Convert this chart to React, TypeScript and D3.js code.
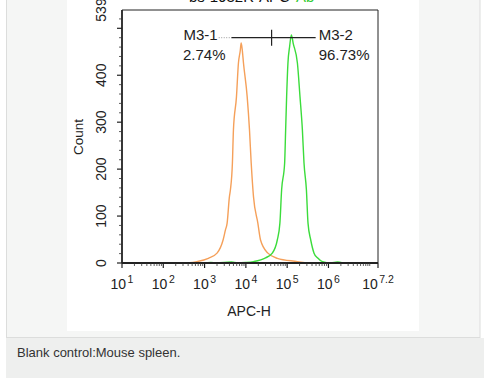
import React from "react";
import * as d3 from "d3";

// ---- data (APC-H fluorescence vs. event count) ----
const orangeApc = [374, 655, 1233, 2004, 2805, 3192, 3516, 3990, 4227, 4721, 5000, 5916, 6607, 7300, 7691, 8150, 8750, 10765, 12246, 13459, 15311, 19498, 22646, 34119, 57677, 177011, 297852];
const orangeCount = [0, 3, 10, 21, 49, 70, 85, 141, 156, 213, 284, 354, 426, 452, 469, 455, 426, 354, 283, 213, 141, 85, 49, 21, 10, 3, 0];

const greenApc = [1000, 1413, 1995, 4467, 6310, 10000, 15311, 29992, 43652, 57677, 66681, 73451, 86896, 91833, 97051, 104472, 115000, 126474, 140000, 177011, 204644, 233884, 255859, 292415, 319890, 372392, 447713, 542001, 716143, 1140250, 1659587, 2238721];
const greenCount = [0, 1, 0, 2, 0, 1, 3, 11, 21, 49, 85, 156, 213, 283, 354, 426, 462, 486, 468, 426, 354, 283, 213, 156, 85, 49, 21, 11, 3, 0, 2, 0];

const xMajorExponents = [1, 2, 3, 4, 5, 6];
const xEndExponent = 7.2;
const yMajorTicks = [0, 100, 200, 300, 400, 500];
const yTickLabels = [0, 100, 200, 300, 400, 539];
const yMax = 539;

const gate1 = { label: "M3-1", pct: "2.74%", from: 2200, solidFrom: 4470, to: 42000 };
const gate2 = { label: "M3-2", pct: "96.73%", from: 42000, to: 490000 };
const gateCount = 480;

const titleBlack = "bs-1932R-APC";
const titleGreen = "Ab";
const caption = "Blank control:Mouse spleen.";

const FONT = "'Liberation Sans', Arial, sans-serif";

export default function App() {
  const x = d3.scaleLog().domain([10, Math.pow(10, xEndExponent)]).range([122, 378]);
  const y = d3.scaleLinear().domain([0, yMax]).range([263, 10]);

  const line = d3
    .line<[number, number]>()
    .x((d) => x(d[0]))
    .y((d) => y(d[1]))
    .curve(d3.curveMonotoneX);

  const orangePath = line(orangeApc.map((v, i) => [v, orangeCount[i]] as [number, number])) || "";
  const greenPath = line(greenApc.map((v, i) => [v, greenCount[i]] as [number, number])) || "";

  const minorX: number[] = [];
  for (let e = 1; e <= 7; e++) {
    for (let k = 2; k <= 9; k++) {
      const v = k * Math.pow(10, e);
      if (v < Math.pow(10, xEndExponent)) minorX.push(v);
    }
  }
  minorX.push(Math.pow(10, 7));
  const minorY: number[] = d3.range(20, yMax, 20).filter((v) => v % 100 !== 0);

  const x0 = 122, x1 = 378, y0 = 263, yTop = 10;
  const gy = y(gateCount);

  return (
    <svg width={484} height={378} style={{ position: "absolute", left: 0, top: 0 }} fontFamily={FONT}>
      <rect x={0} y={0} width={484} height={378} fill="#ffffff" />
      {/* panel */}
      <rect x={6.5} y={-1} width={473.5} height={338.5} fill="#f5f6f5" stroke="#dcdddc" strokeWidth={1} />
      <rect x={6} y={338} width={478} height={40} fill="#eeefee" />
      <rect x={67} y={0} width={352} height={331} fill="#ffffff" />

      {/* partial title (clipped) */}
      <text x={189} y={1.5} fontSize={15} fill="#111">
        {titleBlack}
        <tspan fill="#33cc33" dx={6}>{titleGreen}</tspan>
      </text>

      {/* frame */}
      <line x1={x0} x2={x1} y1={yTop} y2={yTop} stroke="#222" strokeWidth={1} />
      <line x1={x1} x2={x1} y1={yTop} y2={y0} stroke="#222" strokeWidth={1} />

      {/* curves */}
      <path d={orangePath} fill="none" stroke="#f5a05a" strokeWidth={1.4} />
      <path d={greenPath} fill="none" stroke="#3bdc3b" strokeWidth={1.4} />

      {/* axes */}
      <line x1={x0} x2={x1} y1={y0} y2={y0} stroke="#222" strokeWidth={1.8} />
      <line x1={x0} x2={x0} y1={yTop} y2={y0} stroke="#222" strokeWidth={1.8} />

      {/* x ticks */}
      {xMajorExponents.map((e) => (
        <line key={"xm" + e} x1={x(Math.pow(10, e))} x2={x(Math.pow(10, e))} y1={y0} y2={y0 + 5} stroke="#222" strokeWidth={1.2} />
      ))}
      <line x1={x(Math.pow(10, xEndExponent))} x2={x(Math.pow(10, xEndExponent))} y1={y0} y2={y0 + 5} stroke="#222" strokeWidth={1.2} />
      {minorX.map((v, i) => (
        <line key={"xn" + i} x1={x(v)} x2={x(v)} y1={y0} y2={y0 + 3} stroke="#333" strokeWidth={0.8} />
      ))}
      {[...xMajorExponents, xEndExponent].map((e) => (
        <text key={"xl" + e} x={x(Math.pow(10, e))} y={289} fontSize={14} fill="#222" textAnchor="middle">
          10<tspan fontSize={10.5} dx={1.5} dy={-6.5}>{e}</tspan>
        </text>
      ))}
      <text x={249} y={315.5} fontSize={14} fill="#222" textAnchor="middle">APC-H</text>

      {/* y ticks */}
      {yMajorTicks.map((v) => (
        <line key={"ym" + v} x1={x0 - 5} x2={x0} y1={y(v)} y2={y(v)} stroke="#222" strokeWidth={1.2} />
      ))}
      {minorY.map((v) => (
        <line key={"yn" + v} x1={x0 - 3} x2={x0} y1={y(v)} y2={y(v)} stroke="#333" strokeWidth={0.8} />
      ))}
      {yTickLabels.map((v) => (
        <text key={"yl" + v} transform={`translate(106,${y(v)}) rotate(-90)`} fontSize={14} fill="#222" textAnchor="middle">
          {v}
        </text>
      ))}
      <text transform={`translate(83,137) rotate(-90)`} fontSize={13.5} fill="#222" textAnchor="middle">Count</text>

      {/* gates */}
      <line x1={x(gate1.from)} x2={x(gate1.solidFrom)} y1={gy} y2={gy} stroke="#999" strokeWidth={1} strokeDasharray="1,1.5" />
      <line x1={x(gate1.solidFrom)} x2={x(gate1.to)} y1={gy} y2={gy} stroke="#222" strokeWidth={1.2} />
      <line x1={x(gate2.from)} x2={x(gate2.to)} y1={gy} y2={gy} stroke="#222" strokeWidth={1.2} />
      <line x1={x(gate2.from)} x2={x(gate2.from)} y1={gy - 8} y2={gy + 8} stroke="#222" strokeWidth={1.2} />
      <text x={x(gate1.from) - 1} y={39.5} fontSize={15} fill="#222" textAnchor="end">{gate1.label}</text>
      <text x={183} y={59.5} fontSize={15} fill="#222">{gate1.pct}</text>
      <text x={x(gate2.to) + 3} y={39.5} fontSize={15} fill="#222">{gate2.label}</text>
      <text x={x(gate2.to) + 3} y={59.5} fontSize={15} fill="#222">{gate2.pct}</text>

      {/* caption */}
      <text x={17} y={356.5} fontSize={13} fill="#333">{caption}</text>
    </svg>
  );
}
